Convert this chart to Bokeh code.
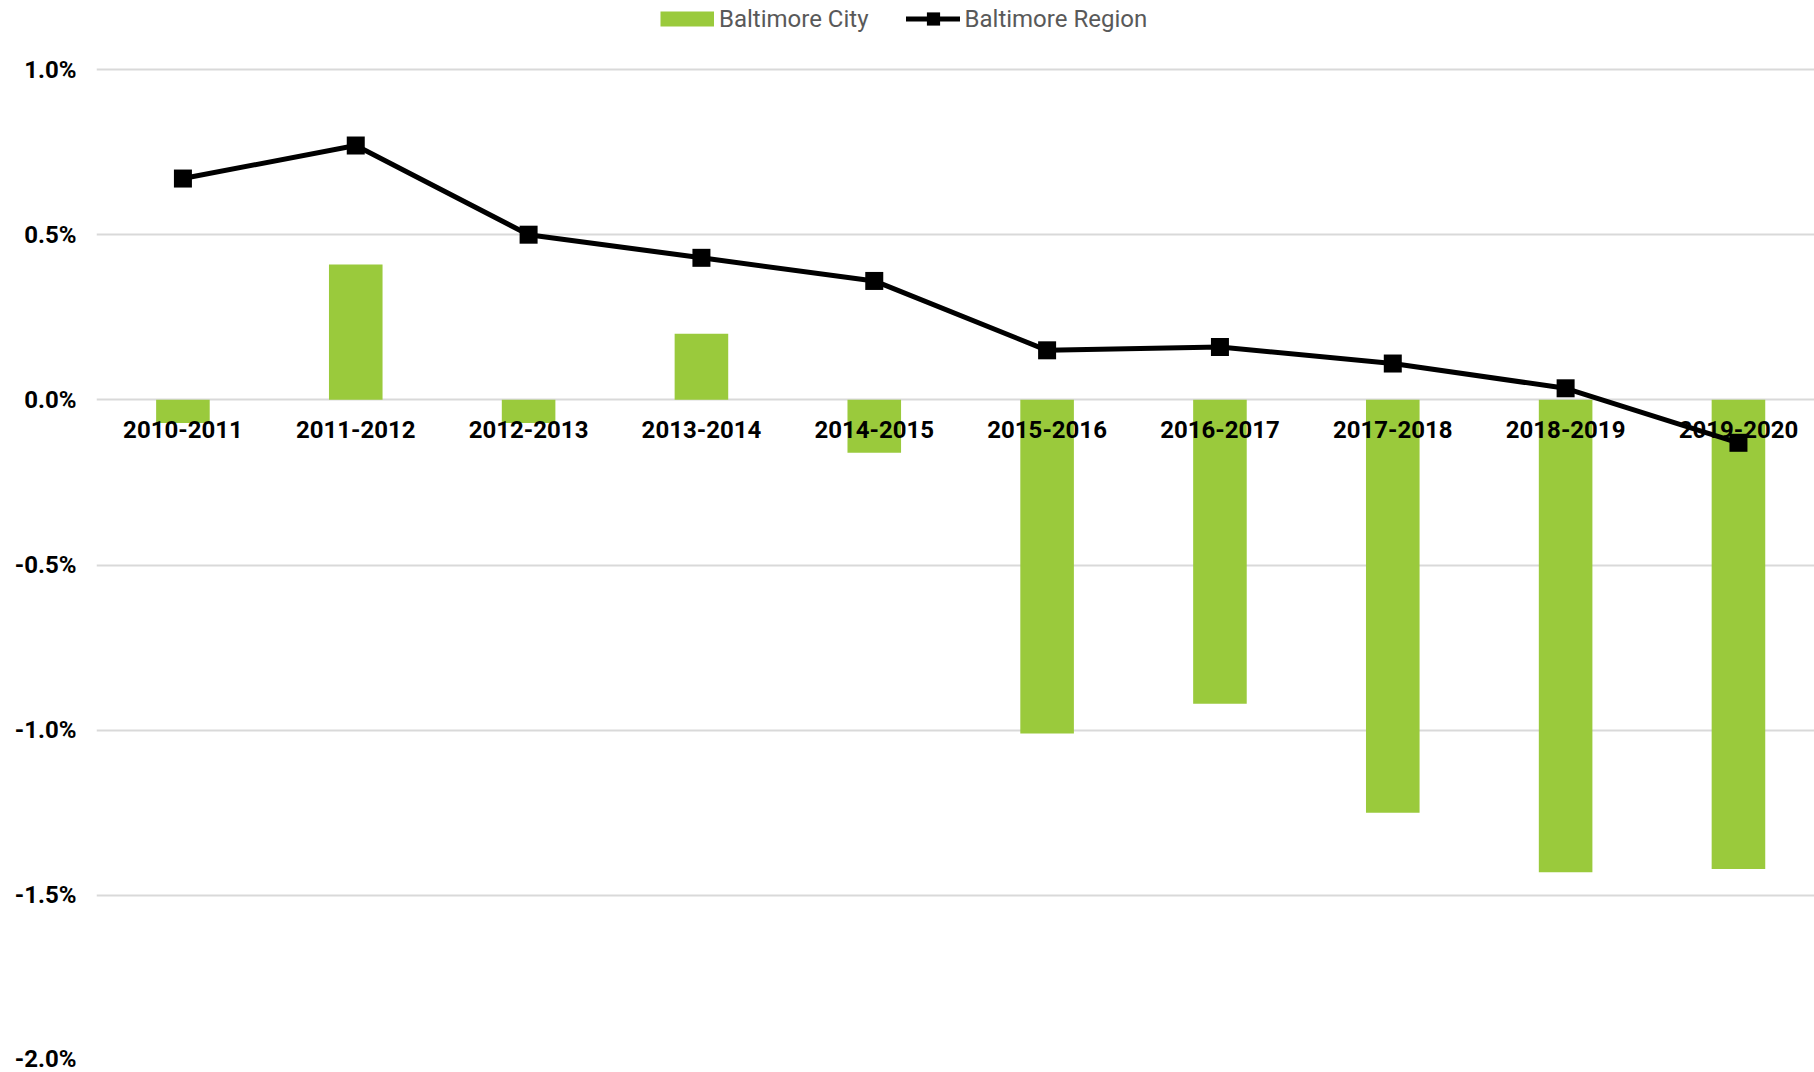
from bokeh.plotting import figure
from bokeh.models import (Range1d, FixedTicker, Legend, LegendItem,
                          PrintfTickFormatter, ColumnDataSource)
from bokeh.embed import file_html
from bokeh.resources import INLINE

periods = ["2010-2011", "2011-2012", "2012-2013", "2013-2014", "2014-2015",
           "2015-2016", "2016-2017", "2017-2018", "2018-2019", "2019-2020"]
city = [-0.07, 0.41, -0.07, 0.20, -0.16, -1.01, -0.92, -1.25, -1.43, -1.42]
region = [0.67, 0.77, 0.50, 0.43, 0.36, 0.15, 0.16, 0.11, 0.035, -0.13]
y_ticks = [-2.0, -1.5, -1.0, -0.5, 0.0, 0.5, 1.0]

GREEN = "#9ACA3C"
xs = list(range(len(periods)))
src = ColumnDataSource(dict(x=xs, city=city, region=region))

p = figure(width=1814, height=1072, output_backend="svg", toolbar_location=None,
           x_range=Range1d(-0.5, 9.44), y_range=Range1d(-2.0, 1.209),
           min_border_left=96, min_border_top=0, min_border_bottom=12,
           min_border_right=0)
p.outline_line_color = None
p.background_fill_color = "white"

bars = p.vbar(x="x", top="city", bottom=0, width=0.31, source=src,
              fill_color=GREEN, line_color=None)
line = p.line(x="x", y="region", source=src, line_color="black", line_width=5,
              line_join="round", line_cap="round")
pts = p.scatter(x="x", y="region", source=src, marker="square", size=18,
                fill_color="black", line_color=None)
line.level = "overlay"
pts.level = "overlay"

# legend-only swatch for the bars (NaN data: nothing drawn in the plot)
nan = float("nan")
city_swatch = p.line(x=[nan], y=[nan], line_color=GREEN, line_width=15)

# y axis
p.yaxis.ticker = FixedTicker(ticks=y_ticks)
p.yaxis.formatter = PrintfTickFormatter(format="%.1f%%")
p.yaxis.axis_line_color = None
p.yaxis.major_tick_line_color = None
p.yaxis.minor_tick_line_color = None
p.yaxis.major_label_standoff = 14
p.yaxis.major_label_text_font = "Roboto"
p.yaxis.major_label_text_font_style = "bold"
p.yaxis.major_label_text_font_size = "24px"
p.yaxis.major_label_text_color = "black"

p.ygrid.ticker = FixedTicker(ticks=y_ticks)
p.ygrid.grid_line_color = "#D9D9D9"
p.ygrid.grid_line_width = 2
p.xgrid.grid_line_color = None

# x axis at zero
p.xaxis.ticker = FixedTicker(ticks=xs)
p.xaxis.major_label_overrides = {i: s for i, s in zip(xs, periods)}
p.xaxis.fixed_location = 0
p.xaxis.axis_line_color = None
p.xaxis.major_tick_line_color = None
p.xaxis.minor_tick_line_color = None
p.xaxis.major_label_standoff = 15
p.xaxis.major_label_text_font = "Roboto"
p.xaxis.major_label_text_font_style = "bold"
p.xaxis.major_label_text_font_size = "24px"
p.xaxis.major_label_text_color = "black"

legend = Legend(items=[LegendItem(label="Baltimore City", renderers=[city_swatch]),
                       LegendItem(label="Baltimore Region", renderers=[line, pts])],
                orientation="horizontal", location=(564, 1025),
                glyph_width=54, glyph_height=33, label_standoff=5, spacing=37,
                padding=0, margin=0, border_line_color=None,
                background_fill_alpha=0,
                label_text_font="Roboto", label_text_font_size="24px",
                label_text_color="#595959")
p.add_layout(legend, "center")

open("out.html", "w").write(file_html(p, INLINE))
